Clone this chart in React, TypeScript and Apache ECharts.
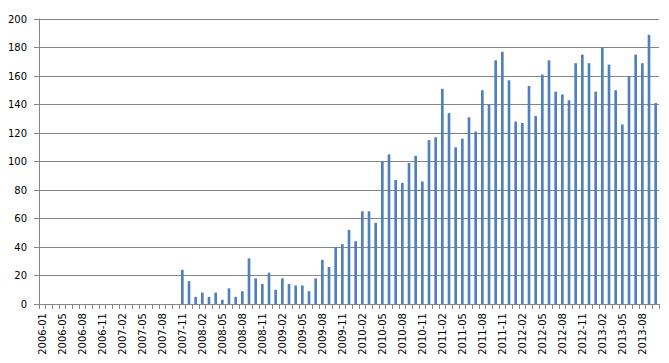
import React, { useEffect, useRef } from "react";
import * as echarts from "echarts";

const months: string[] = [
  "2006-01", "2006-03", "2006-04", "2006-05", "2006-06", "2006-07", "2006-08", "2006-09", "2006-10", "2006-11", "2006-12",
  "2007-01", "2007-02", "2007-03", "2007-04", "2007-05", "2007-06", "2007-07", "2007-08", "2007-09", "2007-10", "2007-11", "2007-12",
  "2008-01", "2008-02", "2008-03", "2008-04", "2008-05", "2008-06", "2008-07", "2008-08", "2008-09", "2008-10", "2008-11", "2008-12",
  "2009-01", "2009-02", "2009-03", "2009-04", "2009-05", "2009-06", "2009-07", "2009-08", "2009-09", "2009-10", "2009-11", "2009-12",
  "2010-01", "2010-02", "2010-03", "2010-04", "2010-05", "2010-06", "2010-07", "2010-08", "2010-09", "2010-10", "2010-11", "2010-12",
  "2011-01", "2011-02", "2011-03", "2011-04", "2011-05", "2011-06", "2011-07", "2011-08", "2011-09", "2011-10", "2011-11", "2011-12",
  "2012-01", "2012-02", "2012-03", "2012-04", "2012-05", "2012-06", "2012-07", "2012-08", "2012-09", "2012-10", "2012-11", "2012-12",
  "2013-01", "2013-02", "2013-03", "2013-04", "2013-05", "2013-06", "2013-07", "2013-08", "2013-09", "2013-10",
];

const counts: number[] = [
  0, 0, 0, 0, 0, 0, 0, 0, 0, 0, 0,
  0, 0, 0, 0, 0, 0, 0, 0, 0, 0, 24, 16,
  5, 8, 5, 8, 3, 11, 5, 9, 32, 18, 14, 22,
  10, 18, 14, 13, 13, 9, 18, 31, 26, 40, 42, 52,
  44, 65, 65, 57, 100, 105, 87, 85, 99, 104, 86, 115,
  117, 151, 134, 110, 116, 131, 121, 150, 140, 171, 177, 157,
  128, 127, 153, 132, 161, 171, 149, 147, 143, 169, 175, 169,
  149, 180, 168, 150, 126, 160, 175, 169, 189, 141,
];

const yTicks = { min: 0, max: 200, interval: 20 };

export default function App() {
  const ref = useRef<HTMLDivElement>(null);
  useEffect(() => {
    if (!ref.current) return;
    const chart = echarts.init(ref.current, null, { renderer: "svg" });
    const font = "DejaVu Sans";
    chart.setOption({
      animation: false,
      backgroundColor: "#ffffff",
      grid: { left: 39, right: 10, top: 19, bottom: 59, containLabel: false },
      xAxis: {
        type: "category",
        data: months,
        boundaryGap: true,
        axisLine: { show: true, lineStyle: { color: "#868686", width: 1 } },
        axisTick: { show: true, interval: 0, length: 5, lineStyle: { color: "#868686" } },
        axisLabel: {
          interval: 2,
          rotate: 90,
          margin: 9,
          color: "#000000",
          fontFamily: font,
          fontSize: 10,
        },
        splitLine: { show: false },
      },
      yAxis: {
        type: "value",
        min: yTicks.min,
        max: yTicks.max,
        interval: yTicks.interval,
        axisLine: { show: true, lineStyle: { color: "#868686", width: 1 } },
        axisTick: { show: true, length: 5, lineStyle: { color: "#868686" } },
        axisLabel: { color: "#000000", fontFamily: font, fontSize: 10, margin: 12 },
        splitLine: { show: true, lineStyle: { color: "#868686", width: 1 } },
      },
      series: [
        {
          type: "bar",
          data: counts,
          barWidth: "40%",
          itemStyle: { color: "#4F81BD" },
        },
      ],
    });
    return () => chart.dispose();
  }, []);
  return (
    <div
      ref={ref}
      style={{ position: "fixed", left: 0, top: 0, width: 669, height: 363, background: "#fff" }}
    />
  );
}
